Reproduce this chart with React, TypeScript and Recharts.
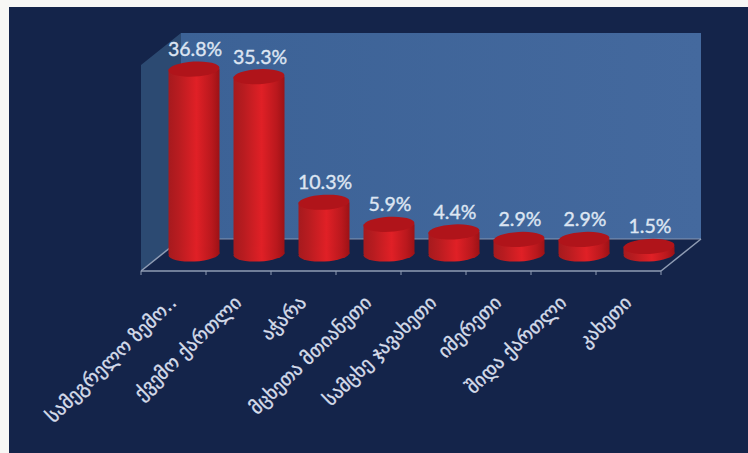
import React from "react";
import { BarChart, Bar, XAxis, YAxis, LabelList, Customized } from "recharts";

const regions = ["სამეგრელო ზემო..", "ქვემო ქართლი", "აჭარა", "მცხეთა მთიანეთი", "სამცხე ჯავახეთი", "იმერეთი", "შიდა ქართლი", "კახეთი"];
const shares = [36.8, 35.3, 10.3, 5.9, 4.4, 2.9, 2.9, 1.5];
const data = regions.map((name, i) => ({ name, share: shares[i] }));

const W = 748, H = 453;
const PLOT = { left: 141, right: 661, top: 65, bottom: 271 };
const DEPTH_X = 40, DEPTH_Y = 32;
const BAR_DX = 20.5, BAR_DY = 17;
const RY = 7.5;
const FONT = "'DejaVu Sans', sans-serif";
const TILT = -3;

const Walls = () => {
  const { left: l, right: r, top: t, bottom: b } = PLOT;
  const dx = DEPTH_X, dy = DEPTH_Y;
  return (
    <g>
      <defs>
        <linearGradient id="backWall" x1="0" x2="1" y1="0" y2="0">
          <stop offset="0" stopColor="#3c6296" />
          <stop offset="1" stopColor="#44699e" />
        </linearGradient>
        <linearGradient id="cyl" x1="0" x2="1" y1="0" y2="0">
          <stop offset="0" stopColor="#a61a1e" />
          <stop offset="0.2" stopColor="#b81c20" />
          <stop offset="0.55" stopColor="#e02026" />
          <stop offset="0.85" stopColor="#b9181d" />
          <stop offset="1" stopColor="#9c1216" />
        </linearGradient>
      </defs>
      <polygon points={`${l + dx},${t - dy} ${r + dx},${t - dy} ${r + dx},${b - dy} ${l + dx},${b - dy}`} fill="url(#backWall)" />
      <polygon points={`${l},${t} ${l + dx},${t - dy} ${l + dx},${b - dy} ${l},${b}`} fill="#2c4a72" />
      <polygon points={`${l},${b} ${l + dx},${b - dy} ${r + dx},${b - dy} ${r},${b}`} fill="#14244a" />
      <g stroke="#8f9cb4" strokeWidth={1.5} fill="none">
        <line x1={l} y1={b} x2={l + dx} y2={b - dy} />
        <line x1={r} y1={b} x2={r + dx} y2={b - dy} />
        <line x1={l + dx} y1={b - dy} x2={r + dx} y2={b - dy} strokeOpacity={0.6} />
      </g>
    </g>
  );
};

const Cylinder = (props: any) => {
  const { x, y, width, height } = props;
  const cx = x + width / 2 + BAR_DX;
  const rx = width / 2;
  const left = cx - rx;
  const top = y - BAR_DY, bottom = y + height - BAR_DY;
  return (
    <g>
      <rect x={left} y={top} width={width} height={bottom - top} fill="url(#cyl)" />
      <ellipse cx={cx} cy={bottom} rx={rx} ry={RY} fill="url(#cyl)" transform={`rotate(${TILT} ${cx} ${bottom})`} />
      <ellipse cx={cx} cy={top} rx={rx} ry={RY} fill="#b0141a" transform={`rotate(${TILT} ${cx} ${top})`} />
    </g>
  );
};

const ValueLabel = (props: any) => {
  const { x, y, width, value } = props;
  return (
    <text
      x={x + width / 2 + BAR_DX + 1}
      y={y - BAR_DY - 13}
      textAnchor="middle"
      fill="#dde5f2"
      stroke="#dde5f2"
      strokeWidth={0.4}
      fontFamily="Lato, sans-serif"
      fontSize={19.5}
    >
      {`${value.toFixed(1)}%`}
    </text>
  );
};

const Tick = (props: any) => {
  const { x, y, payload, index } = props;
  const half = (PLOT.right - PLOT.left) / regions.length / 2;
  const base = PLOT.bottom;
  return (
    <g>
      {index === 0 && <line x1={x - half} y1={base} x2={x - half} y2={base + 4} stroke="#8f9cb4" />}
      <line x1={x + half} y1={base} x2={x + half} y2={base + 4} stroke="#8f9cb4" />
      <text
        transform={`translate(${x + 4},${y + 25}) rotate(-44)`}
        textAnchor="end"
        fill="#d5dcea"
        stroke="#d5dcea"
        strokeWidth={0.4}
        fontFamily={FONT}
        fontSize={19}
      >
        {payload.value}
      </text>
    </g>
  );
};

export default function App() {
  return (
    <div style={{ position: "absolute", left: 0, top: 0, width: W, height: H, background: "#f7f7f5" }}>
      <div style={{ position: "absolute", left: 9, top: 7, width: W - 9, height: H - 7, background: "#14244a" }} />
      <div style={{ position: "absolute", left: 0, top: 0 }}>
        <BarChart
          width={W}
          height={H}
          data={data}
          barSize={51}
          margin={{ left: PLOT.left, right: W - PLOT.right, top: PLOT.top, bottom: 0 }}
        >
          <Customized component={Walls} />
          <XAxis
            dataKey="name"
            interval={0}
            stroke="#8f9cb4"
            strokeWidth={1.5}
            tickLine={false}
            tick={<Tick />}
            height={H - PLOT.bottom}
          />
          <YAxis hide domain={[0, 41]} />
          <Bar dataKey="share" isAnimationActive={false} shape={<Cylinder />}>
            <LabelList dataKey="share" content={<ValueLabel />} />
          </Bar>
        </BarChart>
      </div>
    </div>
  );
}
